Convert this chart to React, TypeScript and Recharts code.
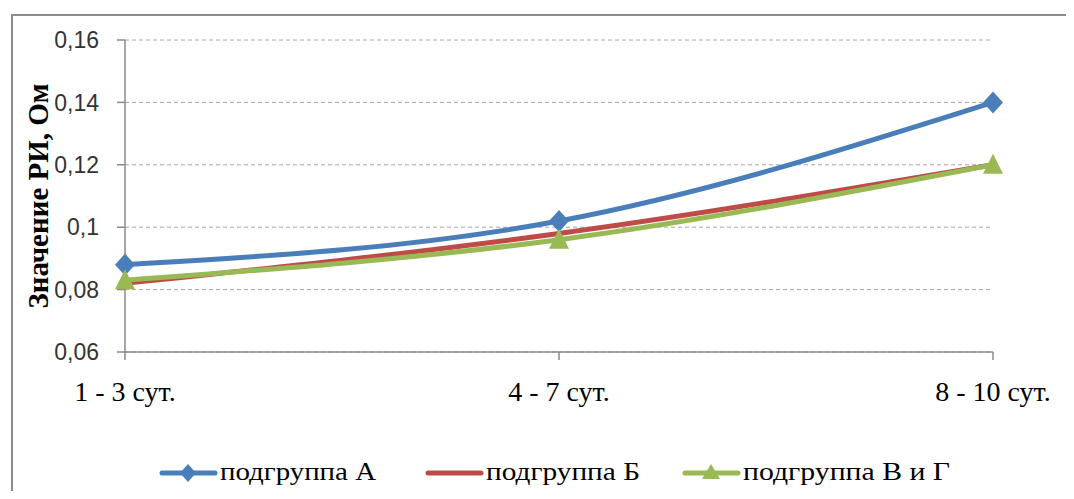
import React from 'react';
import { LineChart, Line, XAxis, YAxis, CartesianGrid, Legend } from 'recharts';

const categories = ['1 - 3 сут.', '4 - 7 сут.', '8 - 10 сут.'];
const seriesA = [0.088, 0.102, 0.14];
const seriesB = [0.082, 0.098, 0.12];
const seriesVG = [0.083, 0.096, 0.12];
const yTicks = [0.06, 0.08, 0.1, 0.12, 0.14, 0.16];
const seriesNames = ['подгруппа А', 'подгруппа Б', 'подгруппа В и Г'];
const yLabel = 'Значение РИ, Ом';

const data = categories.map((cat, i) => ({
  cat,
  a: seriesA[i],
  b: seriesB[i],
  vg: seriesVG[i],
}));

const BLUE = '#4a7ebb';
const RED = '#be4b48';
const GREEN = '#98b954';

const Diamond = (props: any) => {
  const { cx, cy, fill } = props;
  if (cx == null || cy == null) return null;
  return <polygon points={`${cx},${cy - 11} ${cx + 10},${cy} ${cx},${cy + 11} ${cx - 10},${cy}`} fill={fill} />;
};
const Triangle = (props: any) => {
  const { cx, cy, fill } = props;
  if (cx == null || cy == null) return null;
  return <polygon points={`${cx},${cy - 11} ${cx + 10},${cy + 9} ${cx - 10},${cy + 9}`} fill={fill} />;
};

const markerOf: Record<string, string> = { a: 'diamond', b: 'none', vg: 'triangle' };
const legendTextWidth: Record<string, number> = { a: 156, b: 154, vg: 207 };
const legendGap: Record<string, number> = { a: 50, b: 43, vg: 0 };

const LegendContent = (props: any) => {
  const { payload } = props;
  return (
    <div style={{ display: 'flex', alignItems: 'center' }}>
      {(payload || []).map((p: any, i: number) => {
        const m = markerOf[p.dataKey];
        const tw = legendTextWidth[p.dataKey] || 150;
        return (
          <div key={i} style={{ display: 'flex', alignItems: 'center', marginRight: legendGap[p.dataKey] ?? 45 }}>
            <svg width={60 + tw} height={30} overflow="visible" style={{ display: 'block', overflow: 'visible' }}>
              <line x1={2} y1={15} x2={55} y2={15} stroke={p.color} strokeWidth={5} strokeLinecap="round" />
              {m === 'diamond' && <polygon points="28,6 36,15 28,24 20,15" fill={p.color} />}
              {m === 'triangle' && <polygon points="28,6 37,21 19,21" fill={p.color} />}
              <text
                x={60}
                y={22}
                textLength={tw}
                lengthAdjust="spacingAndGlyphs"
                fontFamily='"Liberation Serif", serif'
                fontSize={26}
                fill="#000"
              >
                {p.value}
              </text>
            </svg>
          </div>
        );
      })}
    </div>
  );
};

const YLabelContent = (props: any) => {
  const { viewBox } = props;
  const x = viewBox.x + 18;
  const y = viewBox.y + viewBox.height / 2;
  return (
    <text
      x={x}
      y={y}
      transform={`rotate(-90 ${x} ${y})`}
      textAnchor="middle"
      dominantBaseline="central"
      fontFamily='"Liberation Serif", serif'
      fontWeight="bold"
      fontSize={29}
      fill="#000"
    >
      {yLabel}
    </text>
  );
};

export default function App() {
  return (
    <div style={{ position: 'relative', margin: -8, width: 1074, height: 499, overflow: 'hidden', background: '#fff' }}>
      <div
        style={{
          position: 'absolute',
          left: 11,
          top: 14,
          width: 1200,
          height: 700,
          border: '2px solid #8c8c8c',
          boxSizing: 'border-box',
        }}
      />
      <div style={{ position: 'absolute', left: 0, top: 0 }}>
        <LineChart width={1074} height={499} data={data} margin={{ top: 40, right: 81, bottom: 117, left: 20 }}>
          <CartesianGrid vertical={false} stroke="#a6a6a6" strokeDasharray="4 3" />
          <XAxis
            dataKey="cat"
            height={30}
            tickSize={8}
            tickMargin={21}
            axisLine={{ stroke: '#8a8a8a', strokeWidth: 1.5 }}
            tickLine={{ stroke: '#8a8a8a', strokeWidth: 1.5 }}
            tick={{ fontFamily: '"Liberation Serif", serif', fontSize: 28, fill: '#000' }}
            interval={0}
          />
          <YAxis
            width={105}
            domain={[0.06, 0.16]}
            ticks={yTicks}
            tickSize={8}
            tickMargin={18}
            axisLine={{ stroke: '#8a8a8a', strokeWidth: 1.5 }}
            tickLine={{ stroke: '#8a8a8a', strokeWidth: 1.5 }}
            tick={{ fontFamily: '"Liberation Sans", sans-serif', fontSize: 23, fill: '#333' }}
            tickFormatter={(v: number) => Number(v.toFixed(2)).toString().replace('.', ',')}
            allowDataOverflow
            label={{ content: YLabelContent }}
          />
          <Legend
            verticalAlign="middle"
            align="center"
            content={LegendContent}
            wrapperStyle={{ left: 160, top: 458, width: 850 }}
          />
          <Line
            type="monotone"
            dataKey="a"
            name={seriesNames[0]}
            stroke={BLUE}
            strokeWidth={5}
            dot={<Diamond fill={BLUE} />}
            activeDot={false}
            isAnimationActive={false}
          />
          <Line
            type="monotone"
            dataKey="b"
            name={seriesNames[1]}
            stroke={RED}
            strokeWidth={5}
            dot={false}
            activeDot={false}
            isAnimationActive={false}
          />
          <Line
            type="monotone"
            dataKey="vg"
            name={seriesNames[2]}
            stroke={GREEN}
            strokeWidth={5}
            dot={<Triangle fill={GREEN} />}
            activeDot={false}
            isAnimationActive={false}
          />
        </LineChart>
      </div>
    </div>
  );
}
